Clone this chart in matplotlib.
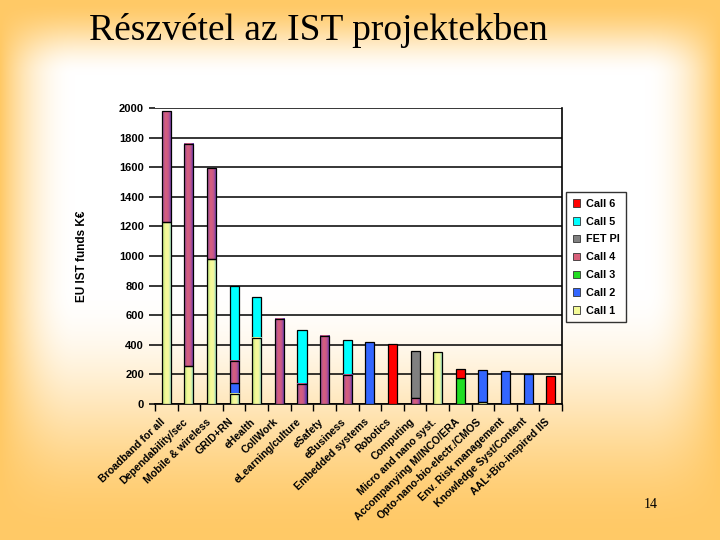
import numpy as np
import matplotlib
matplotlib.use('Agg')
import matplotlib.pyplot as plt
from matplotlib.colors import LinearSegmentedColormap, to_rgb
from matplotlib.patches import Patch
from matplotlib.transforms import ScaledTranslation

##### data #####
categories = ['Broadband for all', 'Dependability/sec', 'Mobile & wireless', 'GRID+RN',
              'eHealth', 'CollWork', 'eLearning/culture', 'eSafety', 'eBusiness',
              'Embedded systems', 'Robotics', 'Computing', 'Micro and nano syst.',
              'Accompanying M/INCO/ERA', 'Opto-nano-bio-electr./CMOS',
              'Env. Risk management', 'Knowledge Syst/Content', 'AAL+Bio-inspired IIS']

call1 = [1231, 255, 983, 68, 447, 0, 0, 0, 0, 0, 0, 0, 351, 0, 12, 0, 0, 0]
call2 = [0, 0, 0, 74, 0, 0, 0, 0, 0, 419, 0, 0, 0, 0, 217, 223, 203, 0]
call3 = [0, 0, 0, 0, 0, 0, 0, 0, 0, 0, 0, 0, 0, 175, 0, 0, 0, 0]
call4 = [746, 1501, 614, 149, 0, 576, 136, 461, 197, 0, 0, 40, 0, 0, 0, 0, 0, 0]
fetpi = [0, 0, 0, 0, 0, 0, 0, 0, 0, 0, 0, 318, 0, 0, 0, 0, 0, 0]
call5 = [0, 0, 0, 506, 278, 0, 366, 0, 237, 0, 0, 0, 0, 0, 0, 0, 0, 0]
call6 = [0, 0, 0, 0, 0, 0, 0, 0, 0, 0, 405, 0, 0, 61, 0, 0, 0, 189]

series = [('Call 1', call1, '#FFFF99'),
          ('Call 2', call2, '#3366FF'),
          ('Call 3', call3, '#22DD22'),
          ('Call 4', call4, '#B0507A'),
          ('FET PI', fetpi, '#808080'),
          ('Call 5', call5, '#00FFFF'),
          ('Call 6', call6, '#FF0000')]

# horizontal shading inside the bars
shades = {'Call 1': ['#A8D878', '#F4FA96', '#F8F8A0', '#70D4C8'],
          'Call 4': ['#8848A8', '#D8607A', '#C8588A', '#4A34B8']}

##### figure + slide background #####
fig = plt.figure(figsize=(7.2, 5.4), dpi=100)

bg = fig.add_axes([0, 0, 1, 1], zorder=-5)
xx, yy = np.meshgrid(np.arange(720), np.arange(540))
fx = np.clip(np.minimum(xx, 719 - xx) / 75.0, 0, 1)
fy = np.clip(np.minimum(yy / 75.0, (539 - yy) / 250.0), 0, 1)
fx = fx * (2 - fx)
fy = fy * fy * (3 - 2 * fy)
t = (fx * fy)[..., None]
orange = np.array(to_rgb('#FFC966'))
white = np.array([1.0, 1.0, 1.0])
bg.imshow(orange * (1 - t) + white * t, aspect='auto')
bg.axis('off')

ax = fig.add_axes([0.2153, 0.2519, 0.5653, 0.548])
ax.set_facecolor('none')

x = np.arange(len(categories))
bottom = np.zeros(len(categories))
width = 0.4
for name, vals, col in series:
    v = np.array(vals, dtype=float)
    h = np.where(v > 0, v, np.nan)
    bars = ax.bar(x, h, width, bottom=bottom, color=col, edgecolor='black',
                  linewidth=0.9, zorder=3)
    if name in shades:
        cmap = LinearSegmentedColormap.from_list(name, shades[name])
        grad = np.linspace(0, 1, 64)[None, :]
        for p in bars.patches:
            if not np.isfinite(p.get_height()):
                continue
            x0, y0 = p.get_x(), p.get_y()
            ax.imshow(grad, cmap=cmap, extent=[x0, x0 + p.get_width(), y0, y0 + p.get_height()],
                      aspect='auto', zorder=3.2, interpolation='bicubic')
            p.set_facecolor('none')
            p.set_zorder(3.5)
    bottom += v

ax.set_xlim(-0.5, len(categories) - 0.5)
ax.set_ylim(0, 2000)

##### axes styling #####
font = 'Liberation Sans'
ax.set_yticks(np.arange(0, 2001, 200))
ax.set_yticklabels([str(v) for v in range(0, 2001, 200)], fontsize=8,
                   fontweight='bold', family=font)
ax.yaxis.grid(True, color='black', linewidth=1.1, zorder=1)
ax.set_axisbelow(True)
ax.tick_params(axis='y', length=4, width=1.1, pad=4)

ax.set_xticks(x)
ax.set_xticklabels(categories, rotation=44, ha='right', va='top', rotation_mode='anchor',
                   fontsize=7.6, fontweight='bold', family=font)
ax.tick_params(axis='x', which='major', length=0, pad=9)
shift = ScaledTranslation(-6 / 100, 0, fig.dpi_scale_trans)
for lab in ax.get_xticklabels():
    lab.set_transform(lab.get_transform() + shift)
ax.set_xticks(np.arange(-0.5, len(categories), 1), minor=True)
ax.tick_params(axis='x', which='minor', length=5, width=1)

for s in ['top', 'left']:
    ax.spines[s].set_visible(False)
ax.spines['right'].set_linewidth(1.2)
ax.spines['bottom'].set_linewidth(1.2)

ax.set_ylabel('EU IST funds K€', fontsize=8.5, fontweight='bold', family=font, labelpad=22)

##### legend #####
handles = [Patch(facecolor=c if n not in shades else shades[n][1], edgecolor='#333333',
                 linewidth=0.6, label=n) for n, _, c in series][::-1]
leg = ax.legend(handles=handles, loc='upper left', bbox_to_anchor=(1.01, 0.715),
                prop={'family': font, 'weight': 'bold', 'size': 7.8},
                frameon=True, fancybox=False, edgecolor='black',
                handlelength=0.7, handleheight=0.7, handletextpad=0.5,
                labelspacing=0.72, borderpad=0.6, borderaxespad=0)
leg.get_frame().set_facecolor('none')
leg.get_frame().set_linewidth(1.0)

##### slide texts #####
fig.text(0.442, 1 - 31 / 540, 'Részvétel az IST projektekben', family='Liberation Serif',
         fontsize=27, ha='center', va='center')
fig.text(651 / 720, 1 - 505 / 540, '14', family='Liberation Serif', fontsize=10,
         ha='center', va='center')

fig.savefig('out.png', dpi=100)
